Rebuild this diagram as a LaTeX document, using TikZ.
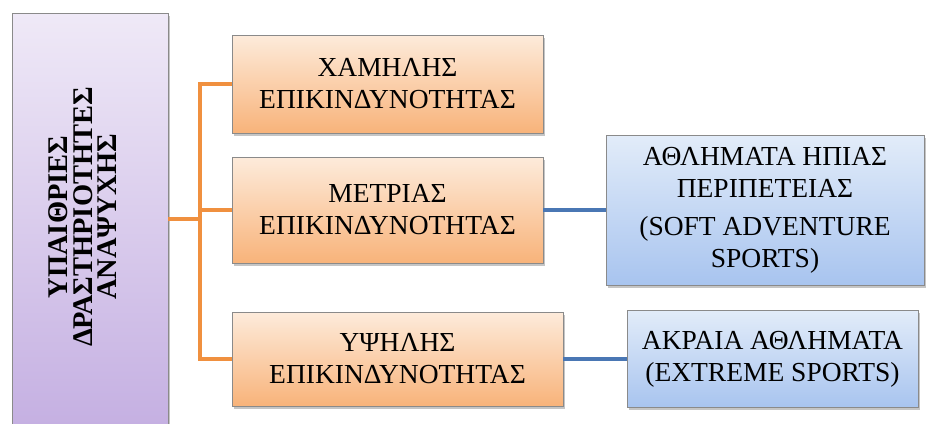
\documentclass[tikz,border=0pt]{standalone}
\usepackage{fontspec}
\setmainfont{Liberation Serif}
\usetikzlibrary{shadows}
\definecolor{purpTop}{HTML}{EFE9F7}
\definecolor{purpBot}{HTML}{C5B0E2}
\definecolor{orTop}{HTML}{FDEBDB}
\definecolor{orBot}{HTML}{F8B37A}
\definecolor{blTop}{HTML}{E2ECF9}
\definecolor{blBot}{HTML}{A8C4EF}
\definecolor{orLine}{HTML}{F0903F}
\definecolor{blLine}{HTML}{4A77B4}
\definecolor{edge}{HTML}{8A8A8A}
\begin{document}
\begin{tikzpicture}[x=1pt,y=-1pt,
  card/.style={rectangle, draw=edge, line width=0.8pt, inner sep=0pt, align=center,
    font=\fontsize{27.5}{32}\selectfont,
    drop shadow={shadow xshift=1.5pt, shadow yshift=-2.5pt, opacity=0.45}},
  purplecard/.style={card, top color=purpTop, bottom color=purpBot},
  orangecard/.style={card, top color=orTop, bottom color=orBot},
  bluecard/.style={card, top color=blTop, bottom color=blBot},
  oline/.style={draw=orLine, line width=3.5pt},
  bline/.style={draw=blLine, line width=3.5pt}]
\useasboundingbox (0,0) rectangle (931,423);
\clip (0,0) rectangle (931,423);
\fill[white] (0,0) rectangle (931,423);

\node[purplecard, minimum width=156pt, minimum height=412pt] (p) at (90,219) {};
\node[rotate=90, align=center, font=\bfseries\fontsize{28.5}{24.5}\selectfont] (ptext) at (83,217)
  {ΥΠΑΙΘΡΙΕΣ\\ΔΡΑΣΤΗΡΙΟΤΗΤΕΣ\\ΑΝΑΨΥΧΗΣ};

\node[orangecard, minimum width=311pt, minimum height=98pt] (b1) at (387.5,84)
  {ΧΑΜΗΛΗΣ\\ΕΠΙΚΙΝΔΥΝΟΤΗΤΑΣ};
\node[orangecard, minimum width=311pt, minimum height=106pt] (b2) at (387.5,210)
  {ΜΕΤΡΙΑΣ\\ΕΠΙΚΙΝΔΥΝΟΤΗΤΑΣ};
\node[orangecard, minimum width=331pt, minimum height=94pt] (b3) at (397.5,359)
  {ΥΨΗΛΗΣ\\ΕΠΙΚΙΝΔΥΝΟΤΗΤΑΣ};

\node[bluecard, minimum width=318pt, minimum height=150pt] (c1) at (765,210)
  {ΑΘΛΗΜΑΤΑ ΗΠΙΑΣ\\ΠΕΡΙΠΕΤΕΙΑΣ\\[6pt](SOFT ADVENTURE\\SPORTS)};
\node[bluecard, minimum width=291pt, minimum height=97pt] (c2) at (772.5,359)
  {ΑΚΡΑΙΑ ΑΘΛΗΜΑΤΑ\\(EXTREME SPORTS)};

\coordinate (bus) at (200,219);
\draw[oline] (p.east) -- (bus);
\draw[oline] (b1.west) -| (bus) |- (b3.west);
\draw[oline] (bus) |- (b2.west);
\draw[bline] (b2.east) -- (c1.west);
\draw[bline] (b3.east) -- (c2.west);
\end{tikzpicture}
\end{document}
